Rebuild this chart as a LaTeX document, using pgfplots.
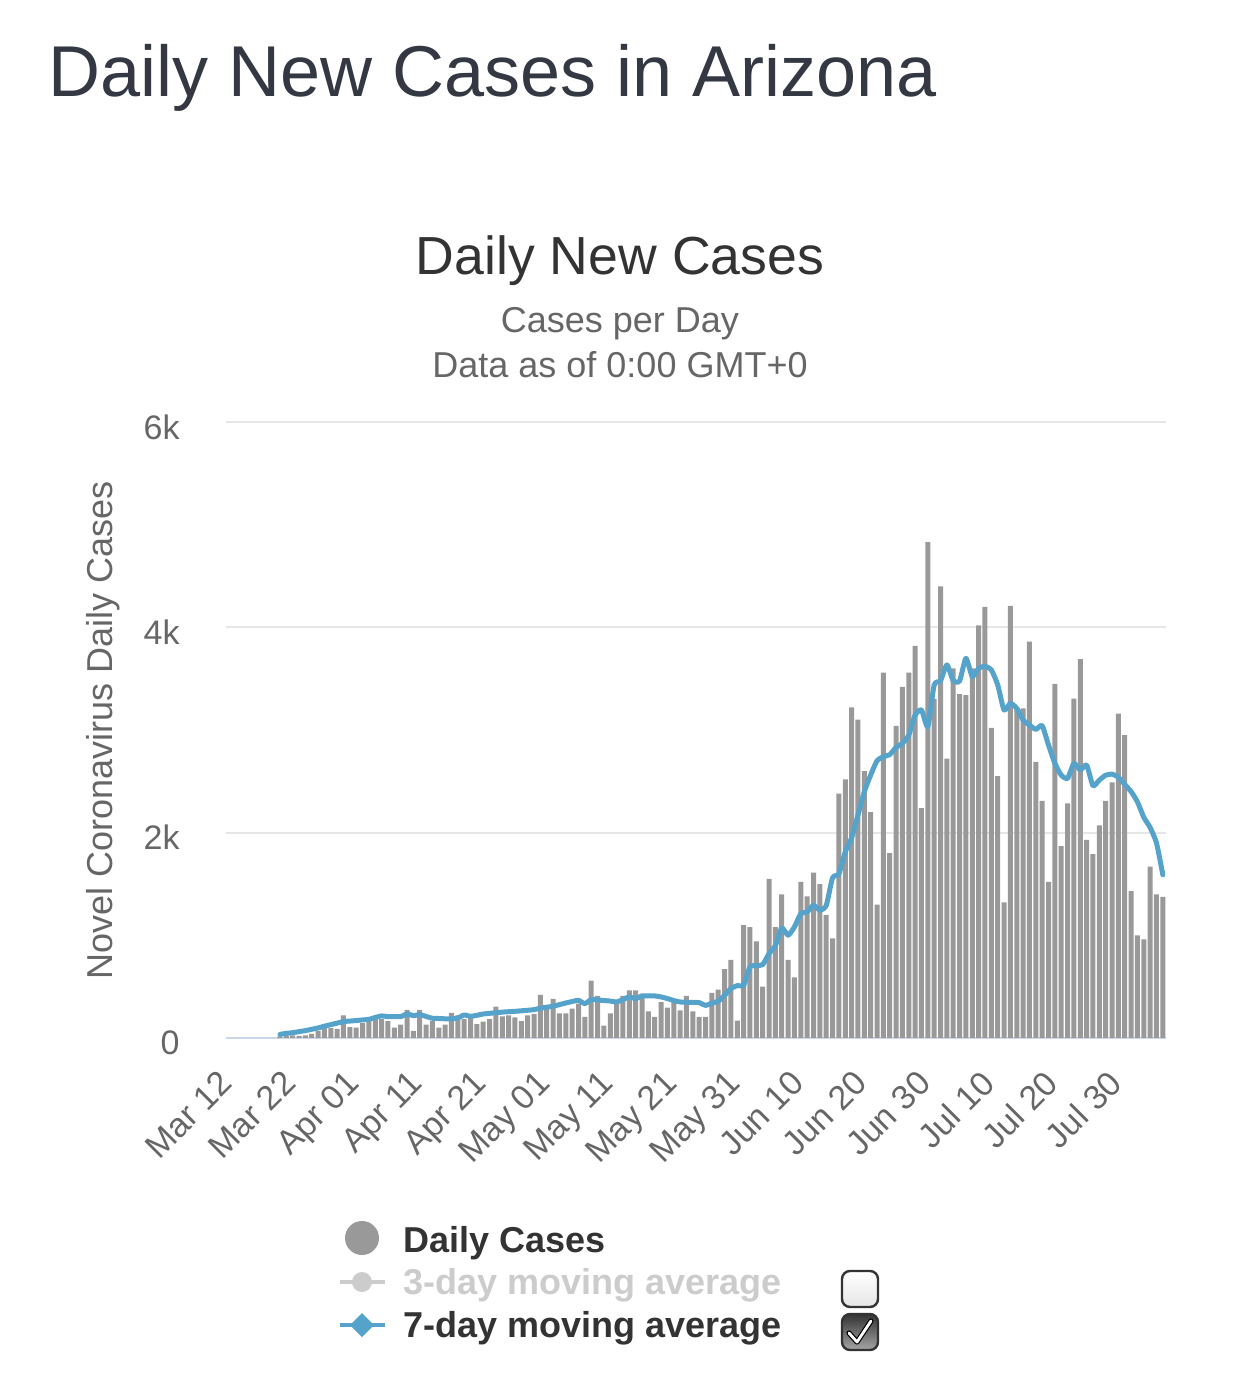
\documentclass[border=0pt]{standalone}
\usepackage{fontspec}
\setmainfont{Liberation Sans}
\usepackage{pgfplots}
\pgfplotsset{compat=1.18}
\usepackage{pgfplotstable}

\definecolor{barcol}{RGB}{153,153,153}
\definecolor{linecol}{RGB}{85,163,203}
\definecolor{titlecol}{RGB}{51,56,66}
\definecolor{darktxt}{RGB}{51,51,51}
\definecolor{graytxt}{RGB}{102,102,102}
\definecolor{lighttxt}{RGB}{204,204,204}
\definecolor{gridcol}{RGB}{230,230,230}
\definecolor{axiscol}{RGB}{204,214,235}

\pgfplotstableread{
i v
8 15
9 20
10 25
11 20
12 25
13 40
14 70
15 130
16 95
17 90
18 220
19 105
20 100
21 145
22 185
23 185
24 185
25 165
26 100
27 130
28 275
29 70
30 275
31 130
32 165
33 100
34 130
35 245
36 220
37 185
38 220
39 135
40 160
41 185
42 305
43 210
44 220
45 200
46 165
47 220
48 235
49 420
50 320
51 380
52 240
53 240
54 285
55 335
56 205
57 560
58 410
59 120
60 240
61 335
62 410
63 465
64 465
65 430
66 260
67 205
68 350
69 295
70 350
71 270
72 410
73 260
74 205
75 205
76 440
77 470
78 670
79 760
80 170
81 1100
82 1080
83 940
84 500
85 1550
86 1080
87 1400
88 760
89 590
90 1520
91 1380
92 1610
93 1500
94 1200
95 970
96 2380
97 2520
98 3220
99 3100
100 2600
101 2200
102 1300
103 3560
104 1800
105 3040
106 3420
107 3560
108 3820
109 2240
110 4830
111 3300
112 4400
113 2720
114 3600
115 3350
116 3340
117 3600
118 4020
119 4200
120 3020
121 2550
122 1320
123 4210
124 3220
125 3210
126 3860
127 2690
128 2310
129 1520
130 3450
131 1870
132 2285
133 3305
134 3690
135 1930
136 1790
137 2070
138 2310
139 2490
140 3160
141 2950
142 1430
143 1000
144 960
145 1670
146 1400
147 1375
}\dailycases

\pgfplotstableread{
i m
8 35
9 45
10 52
11 62
12 72
13 85
14 98
15 115
16 130
17 145
18 160
19 165
20 170
21 176
22 182
23 200
24 215
25 208
26 208
27 208
28 234
29 218
30 228
31 210
32 192
33 190
34 187
35 185
36 195
37 224
38 211
39 221
40 234
41 240
42 247
43 252
44 256
45 260
46 265
47 270
48 276
49 290
50 300
51 309
52 325
53 341
54 355
55 367
56 335
57 374
58 370
59 365
60 360
61 351
62 375
63 400
64 384
65 410
66 410
67 410
68 400
69 384
70 365
71 351
72 348
73 346
74 345
75 318
76 340
77 358
78 416
79 481
80 510
81 514
82 692
83 705
84 715
85 822
86 900
87 1072
88 1001
89 1082
90 1212
91 1228
92 1293
93 1245
94 1290
95 1560
96 1600
97 1813
98 1950
99 2171
100 2399
101 2561
102 2700
103 2740
104 2760
105 2830
106 2870
107 2950
108 3146
109 3195
110 3032
111 3439
112 3480
113 3634
114 3480
115 3478
116 3699
117 3520
118 3601
119 3620
120 3585
121 3440
122 3195
123 3260
124 3211
125 3097
126 3049
127 3006
128 3042
129 2854
130 2675
131 2561
132 2529
133 2675
134 2610
135 2659
136 2457
137 2512
138 2560
139 2570
140 2540
141 2470
142 2400
143 2300
144 2150
145 2050
146 1900
147 1590
}\sevenday

\begin{document}
\begin{tikzpicture}[x=1pt,y=1pt]
\path (-113,-177) rectangle (508,519);
\node[anchor=base west, inner sep=0, text=titlecol, font=\fontsize{36}{40}\selectfont] at (-89,470.5) {Daily New Cases in Arizona};
\node[anchor=base, inner sep=0, text=darktxt, font=\fontsize{26.8}{30}\selectfont] at (197,381.5) {Daily New Cases};
\node[anchor=base, inner sep=0, text=graytxt, font=\fontsize{18}{20}\selectfont] at (197,352.5) {Cases per Day};
\node[anchor=base, inner sep=0, text=graytxt, font=\fontsize{18}{20}\selectfont] at (197,330) {Data as of 0:00 GMT+0};
\begin{axis}[
  at={(0,0)}, anchor=south west,
  scale only axis, width=470pt, height=308pt,
  xmin=-0.5, xmax=147.5, ymin=0, ymax=6000,
  axis x line*=bottom, axis y line*=left,
  x axis line style={-, draw=axiscol, line width=1pt},
  y axis line style={draw=none},
  tick style={draw=none}, major tick length=0pt,
  ymajorgrids, grid style={gridcol, line width=1pt},
  xtick={0,10,...,140},
  xticklabels={Mar 12,Mar 22,Apr 01,Apr 11,Apr 21,May 01,May 11,May 21,May 31,Jun 10,Jun 20,Jun 30,Jul 10,Jul 20,Jul 30},
  ytick={0,2000,4000,6000},
  yticklabels={0,2k,4k,6k},
  /pgf/number format/assume math mode=true,
  xticklabel style={xshift=-6pt, yshift=-15pt, rotate=45, anchor=north east, inner sep=0pt, text=graytxt, font=\fontsize{17}{19}\selectfont},
  yticklabel style={anchor=east, inner sep=0pt, xshift=-23pt, yshift=-2.5pt, text=graytxt, font=\fontsize{17}{19}\selectfont},
  ylabel={Novel Coronavirus Daily Cases},
  ylabel style={at={(axis description cs:-0.1309,0.5)}, anchor=center, text=graytxt, font=\fontsize{18}{20}\selectfont},
  clip=false,
]
\addplot[ybar, bar width=2.5pt, fill=barcol, draw=none] table[x=i, y=v] {\dailycases};
\addplot[linecol, line width=2.5pt, smooth, tension=0.35, no marks, line join=round, line cap=round] table[x=i, y=m] {\sevenday};
\end{axis}
% legend
\fill[barcol] (68,-100) circle (8.5);
\node[anchor=base west, inner sep=0, text=darktxt, font=\bfseries\fontsize{18}{20}\selectfont] at (88.5,-107) {Daily Cases};
\draw[lighttxt, line width=2pt] (57,-122) -- (79.5,-122);
\fill[lighttxt] (68,-122) circle (5);
\node[anchor=base west, inner sep=0, text=lighttxt, font=\bfseries\fontsize{18}{20}\selectfont] at (88.5,-128) {3-day moving average};
\draw[linecol, line width=2pt] (57,-143.5) -- (79.5,-143.5);
\fill[linecol] (68,-137.5) -- (74,-143.5) -- (68,-149.5) -- (62,-143.5) -- cycle;
\node[anchor=base west, inner sep=0, text=darktxt, font=\bfseries\fontsize{18}{20}\selectfont] at (88.5,-149.5) {7-day moving average};
% checkboxes
\draw[rounded corners=4pt, line width=1.2pt, draw=darktxt, top color=white, bottom color=gray!20] (308,-134.5) rectangle (326,-116.5);
\draw[rounded corners=4pt, line width=1.2pt, draw=darktxt, top color=darktxt, bottom color=gray!70] (308,-156) rectangle (326,-138);
\draw[black, line width=2.6pt, line cap=round, line join=round] (311.5,-147.5) -- (315.5,-152) -- (322.5,-141.5);
\draw[white, line width=1.4pt, line cap=round, line join=round] (311.5,-147.5) -- (315.5,-152) -- (322.5,-141.5);
\end{tikzpicture}
\end{document}
